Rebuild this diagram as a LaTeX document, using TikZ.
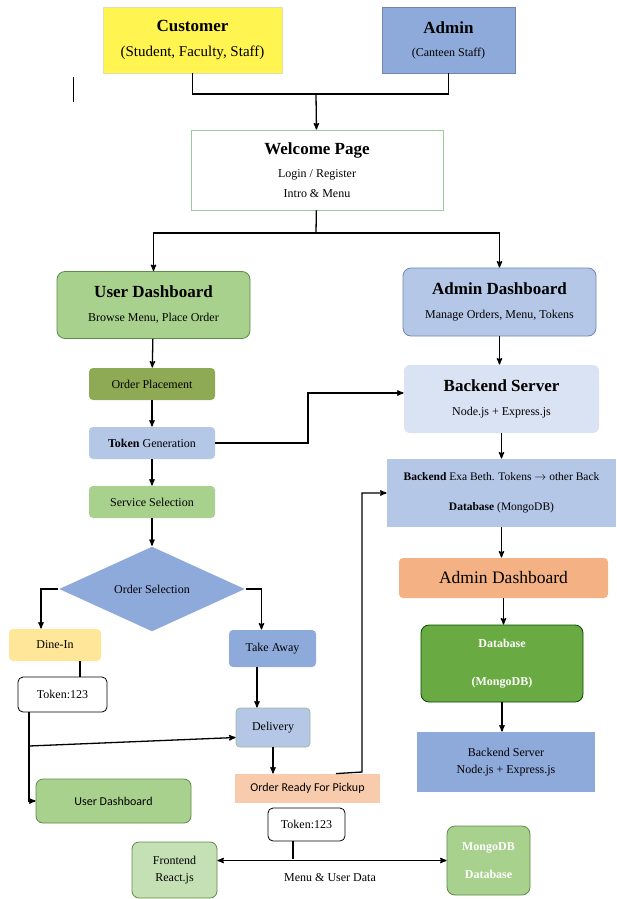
\documentclass[tikz,border=0pt]{standalone}
\usepackage{fontspec}
\setmainfont{Liberation Serif}
\newfontfamily\calibri{Carlito}
\usepackage{tikz}
\usetikzlibrary{arrows,shapes.geometric,positioning}

\definecolor{custyellow}{HTML}{FFF450}
\definecolor{adminblue}{HTML}{8EAADB}
\definecolor{lightblue}{HTML}{B4C7E7}
\definecolor{paleblue}{HTML}{DAE3F3}
\definecolor{midgreen}{HTML}{A9D18E}
\definecolor{palegreen}{HTML}{C5E0B4}
\definecolor{olivegreen}{HTML}{8FAA55}
\definecolor{darkgreen}{HTML}{6AAA42}
\definecolor{dineyellow}{HTML}{FFE699}
\definecolor{peach}{HTML}{F8CBAD}
\definecolor{orangebox}{HTML}{F4B183}
\definecolor{greenline}{HTML}{5F8A48}
\definecolor{blueline}{HTML}{6F86AE}

\newcommand{\hdfont}{\fontsize{17}{20}\selectfont\bfseries}
\newcommand{\txfont}{\fontsize{12}{14}\selectfont}

\begin{document}
\begin{tikzpicture}[x=1pt,y=-1pt,>=stealth',line width=1.3pt]
	\useasboundingbox (0,0) rectangle (616,899);
	\tikzset{every node/.style={inner sep=0pt,align=center,font=\txfont}}
	\tikzset{box/.style={rectangle,line width=0.8pt}}
	\tikzset{rbox/.style={box,rounded corners=4pt}}
	\tikzset{flow/.style={->}}
	% actors
	\node[box,draw=custyellow!70!black!40,fill=custyellow,minimum width=179,minimum height=66] (cust) at (192.5,40)
		{{\hdfont Customer}\\[11pt]{\fontsize{15}{17}\selectfont(Student, Faculty, Staff)}};
	\node[box,draw=blueline,fill=adminblue,minimum width=133,minimum height=66] (adm) at (448.5,40)
		{{\hdfont Admin}\\[9pt](Canteen Staff)};
	\draw[line width=0.6pt] (73,77) -- (73,102);
	\node[box,draw=green!30!gray!60,fill=white,minimum width=252,minimum height=80] (welc) at (317,170)
		{{\hdfont Welcome Page}\\[9pt]Login / Register\\[6pt]Intro \& Menu};
	% dashboards
	\node[box,rounded corners=8pt,draw=greenline,fill=midgreen,minimum width=193,minimum height=67] (udash) at (153.5,305)
		{{\hdfont User Dashboard}\\[10pt]Browse Menu, Place Order};
	\node[box,rounded corners=8pt,draw=blueline,fill=lightblue,minimum width=193,minimum height=68] (adash) at (499.5,302)
		{{\hdfont Admin Dashboard}\\[10pt]Manage Orders, Menu, Tokens};
	% user side
	\node[rbox,fill=olivegreen,minimum width=126,minimum height=32] (oplace) at (152,384) {Order Placement};
	\node[rbox,fill=lightblue,minimum width=126,minimum height=32] (token) at (152,443) {\textbf{Token} Generation};
	\node[rbox,fill=midgreen,minimum width=126,minimum height=32] (serv) at (152,502) {Service Selection};
	\node[diamond,fill=adminblue,aspect=2.2,minimum width=186,minimum height=85] (osel) at (152,589) {Order Selection};
	\node[rbox,fill=dineyellow,minimum width=92,minimum height=32] (dine) at (55,645) {Dine-In};
	\node[rbox,fill=adminblue,minimum width=87,minimum height=37] (take) at (272.5,648.5) {Take Away};
	\node[rbox,rounded corners=5pt,draw=black,fill=white,minimum width=89,minimum height=35] (tok1) at (62.5,694.5) {Token:123};
	\node[rbox,draw=greenline!60,fill=lightblue,minimum width=74,minimum height=39] (delv) at (273,727.5) {Delivery};
	\node[rbox,rounded corners=7pt,draw=greenline,fill=midgreen,minimum width=155,minimum height=44,font=\calibri\fontsize{12}{14}\selectfont] (udash2) at (113.5,801) {User Dashboard};
	\node[box,fill=peach,minimum width=145,minimum height=29,font=\calibri\fontsize{12}{14}\selectfont] (ready) at (307.5,788.5) {Order Ready For Pickup};
	\node[rbox,rounded corners=5pt,draw=black,fill=white,minimum width=77,minimum height=33] (tok2) at (306.5,824.5) {Token:123};
	\node[rbox,rounded corners=7pt,draw=greenline,fill=palegreen,minimum width=85,minimum height=56] (front) at (174.5,870) {Frontend\\[3pt]React.js};
	\node[rbox,rounded corners=8pt,draw=greenline,fill=midgreen,minimum width=83,minimum height=69,text=white,font=\txfont\bfseries] (mongo) at (488.5,860.5) {MongoDB\\[14pt]Database};
	\node (mudata) at (330,878) {Menu \& User Data};
	% admin side
	\node[rbox,rounded corners=6pt,fill=paleblue,minimum width=195,minimum height=68] (bserv) at (501.5,399)
		{{\hdfont Backend Server}\\[10pt]Node.js + Express.js};
	\node[box,fill=lightblue,minimum width=229,minimum height=68,font=\fontsize{11.5}{13}\selectfont] (bexa) at (501.5,493)
		{\textbf{Backend} Exa Beth. Tokens $\rightarrow$ other Back\\[17pt]\textbf{Database} (MongoDB)};
	\node[rbox,fill=orangebox,minimum width=209,minimum height=40,font=\fontsize{17.5}{20}\selectfont] (adash2) at (503.5,578) {Admin Dashboard};
	\node[box,rounded corners=8pt,draw=black!70!green,fill=darkgreen,minimum width=162,minimum height=77,text=white,font=\txfont\bfseries] (db) at (502,663.5)
		{Database\\[24pt](MongoDB)};
	\node[box,fill=adminblue,minimum width=178,minimum height=60] (bserv2) at (506,762)
		{Backend Server\\[3pt]Node.js + Express.js};
	% connectors
	\coordinate (j1) at (316,94);
	\coordinate (j2) at (316,233);
	\coordinate (j3) at (29,746);
	\coordinate (j4) at (362,772);
	\coordinate (j5) at (308,443);
	\coordinate (j6) at (293,859);
	\draw (cust) |- (j1) -| (adm);
	\draw[flow] (j1) -- (welc);
	\draw (welc) -- (j2);
	\draw[flow] (j2) -| (udash);
	\draw[flow] (j2) -| (adash);
	\draw[flow] (udash) -- (oplace);
	\draw[flow] (oplace) -- (token);
	\draw[flow] (token) -- (serv);
	\draw[flow] (serv) -- (osel);
	\draw[flow] (osel.west) -| ([xshift=-14pt]dine.north);
	\draw[flow] (osel.east) -| ([xshift=-11pt]take.north);
	\draw ([xshift=25pt]dine.south) -- ([xshift=17.5pt]tok1.north);
	\draw[flow] ([xshift=-33.5pt]tok1.south) |- (udash2.west);
	\draw[flow] (j3) -- ([yshift=-10pt]delv.west);
	\draw[flow] ([xshift=-15.5pt]take.south) -- ([xshift=-16pt]delv.north);
	\draw[flow] (delv.south) -- (delv.south |- ready.north);
	\draw[flow] ([xshift=28.5pt]ready.north) -- (j4) |- (bexa.west);
	\draw[flow] (token.east) -- (j5) |- ([yshift=6pt]bserv.west);
	\draw[flow] (adash) -- (adash |- bserv.north);
	\draw[flow] (bserv) -- (bserv |- bexa.north);
	\draw[flow] (bexa) -- (bexa |- adash2.north);
	\draw[flow] (adash2) -- (adash2 |- db.north);
	\draw[flow] (db) -- (db |- bserv2.north);
	\draw ([xshift=-13.5pt]tok2.south) -- (j6);
	\draw[<->] (front.east |- mongo.west) -- (mongo.west);
\end{tikzpicture}
\end{document}
